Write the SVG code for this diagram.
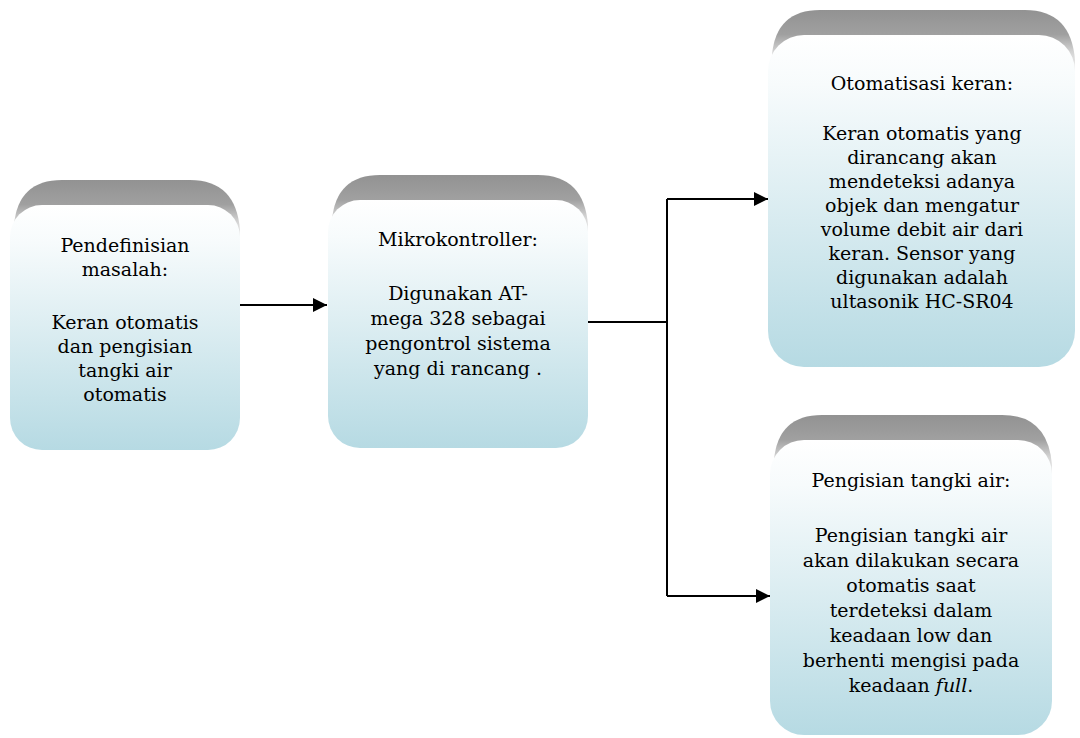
<svg xmlns="http://www.w3.org/2000/svg" width="1080" height="738" viewBox="0 0 1080 738">
<defs>
<linearGradient id="face" x1="0" y1="0" x2="0" y2="1">
<stop offset="0" stop-color="#ffffff"/>
<stop offset="0.15" stop-color="#f7fbfc"/>
<stop offset="1" stop-color="#b6dae3"/>
</linearGradient>
<linearGradient id="top" x1="0" y1="0" x2="0" y2="1">
<stop offset="0" stop-color="#929292"/>
<stop offset="0.35" stop-color="#a0a0a0"/>
<stop offset="0.6" stop-color="#d4d4d4"/>
<stop offset="1" stop-color="#ffffff"/>
</linearGradient>
<marker id="arr" viewBox="0 0 10 10" refX="10" refY="5" markerWidth="7" markerHeight="7" markerUnits="strokeWidth" orient="auto">
<path d="M0,0 L10,5 L0,10 z" fill="#000"/>
</marker>
</defs>
<style>
.c{fill:none;stroke:#000;stroke-width:2}
.t{font-family:'DejaVu Serif',serif;font-size:19px;fill:#000;text-anchor:middle}
</style>
<rect width="1080" height="738" fill="#fff"/>

<g id="connectors">
<path class="c" d="M240,305 H327" marker-end="url(#arr)"/>
<path class="c" d="M588,322 H667 M667,199 V596"/>
<path class="c" d="M667,199 H768" marker-end="url(#arr)"/>
<path class="c" d="M667,596 H770" marker-end="url(#arr)"/>
</g>

<g id="node1">
<path d="M14,225 Q18,180 62,180 H190 Q236,180 240,230 V250 H12 Z" fill="url(#top)"/>
<rect x="10" y="205" width="230" height="245" rx="32" fill="url(#face)"/>
<text class="t" x="125" y="252">Pendefinisian</text>
<text class="t" x="125" y="276">masalah:</text>
<text class="t" x="125" y="329">Keran otomatis</text>
<text class="t" x="125" y="353">dan pengisian</text>
<text class="t" x="125" y="377">tangki air</text>
<text class="t" x="125" y="401">otomatis</text>
</g>

<g id="node2">
<path d="M332,220 Q336,175 380,175 H538 Q584,175 588,225 V245 H330 Z" fill="url(#top)"/>
<rect x="328" y="200" width="260" height="248" rx="32" fill="url(#face)"/>
<text class="t" x="458" y="246">Mikrokontroller:</text>
<text class="t" x="458" y="300">Digunakan AT-</text>
<text class="t" x="458" y="325">mega 328 sebagai</text>
<text class="t" x="458" y="350">pengontrol sistema</text>
<text class="t" x="458" y="375">yang di rancang .</text>
</g>

<g id="node3">
<path d="M772,55 Q776,10 820,10 H1025 Q1071,10 1075,60 V80 H770 Z" fill="url(#top)"/>
<rect x="768" y="35" width="307" height="332" rx="36" fill="url(#face)"/>
<text class="t" x="922" y="90">Otomatisasi keran:</text>
<text class="t" x="922" y="140">Keran otomatis yang</text>
<text class="t" x="922" y="164">dirancang akan</text>
<text class="t" x="922" y="188">mendeteksi adanya</text>
<text class="t" x="922" y="212">objek dan mengatur</text>
<text class="t" x="922" y="236">volume debit air dari</text>
<text class="t" x="922" y="260">keran. Sensor yang</text>
<text class="t" x="922" y="284">digunakan adalah</text>
<text class="t" x="922" y="308">ultasonik HC-SR04</text>
</g>

<g id="node4">
<path d="M774,460 Q778,415 822,415 H1002 Q1048,415 1052,465 V485 H772 Z" fill="url(#top)"/>
<rect x="770" y="440" width="282" height="295" rx="34" fill="url(#face)"/>
<text class="t" x="911" y="487">Pengisian tangki air:</text>
<text class="t" x="911" y="542">Pengisian tangki air</text>
<text class="t" x="911" y="567">akan dilakukan secara</text>
<text class="t" x="911" y="592">otomatis saat</text>
<text class="t" x="911" y="617">terdeteksi dalam</text>
<text class="t" x="911" y="642">keadaan low dan</text>
<text class="t" x="911" y="667">berhenti mengisi pada</text>
<text class="t" x="911" y="692">keadaan <tspan font-style="italic">full</tspan>.</text>
</g>
</svg>
